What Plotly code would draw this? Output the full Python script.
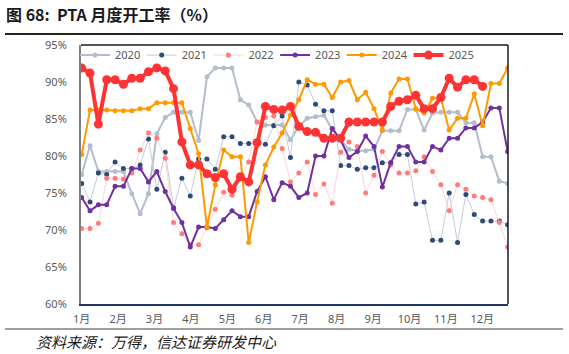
import plotly.graph_objects as go

months = ["1月", "2月", "3月", "4月", "5月", "6月", "7月", "8月", "9月", "10月", "11月", "12月"]
month_pos = [0.0, 4.36, 8.72, 13.08, 17.44, 21.8, 26.16, 30.52, 34.88, 39.24, 43.6, 47.96]
y_ticks = [60, 65, 70, 75, 80, 85, 90, 95]
y_labels = ["60%", "65%", "70%", "75%", "80%", "85%", "90%", "95%"]

s2020 = [77.5, 81.4, 77.9, 77.9, 77.9, 77.9, 74.9, 72.2, 74.9, 83.0, 85.2, 85.9, 85.9, 85.9, 82.1, 90.7,
         91.9, 91.9, 91.9, 87.6, 86.9, 84.6, 84.2, 84.2, 84.2, 82.2, 84.0, 85.1, 85.3, 85.5, 83.6, 82.2,
         80.9, 80.7, 80.7, 80.9, 83.4, 83.4, 83.4, 86.3, 86.3, 83.5, 85.8, 85.9, 85.9, 85.9, 84.5, 84.5,
         79.9, 79.9, 76.6, 76.3]
s2021 = [76.3, 73.8, 77.7, 77.5, 79.2, 78.3, 78.3, 78.8, 82.3, 75.5, 80.5, 73.0, 77.0, 74.6, 79.6, 79.6,
         78.2, 82.6, 82.6, 81.7, 81.7, 81.7, 81.6, 84.1, 85.4, 79.8, 90.0, 89.6, 87.0, 86.1, 86.1, 78.7,
         78.7, 78.2, 78.4, 78.4, 79.1, 79.1, 80.2, 80.2, 73.5, 73.8, 68.6, 68.6, 75.0, 68.3, 74.8, 72.1,
         71.2, 71.2, 71.2, 70.7]
s2022 = [70.2, 70.2, 70.9, 77.0, 77.0, 76.9, 77.7, 80.8, 83.1, 82.4, 79.7, 71.0, 69.5, 68.0, 68.0, 70.3,
         72.8, 75.1, 74.7, 77.0, 79.2, 84.6, 85.2, 85.4, 81.0, 76.5, 77.7, 79.2, 74.8, 76.2, 73.6, 80.5,
         81.9, 81.3, 75.0, 77.4, 80.6, 78.8, 77.7, 77.7, 78.0, 79.9, 77.9, 76.1, 72.6, 76.1, 75.5, 74.6,
         74.4, 74.1, 71.0, 67.7]
s2023 = [74.4, 72.6, 73.4, 73.4, 75.9, 75.9, 78.3, 78.3, 76.5, 77.9, 75.2, 72.9, 71.0, 67.7, 70.4, 70.4,
         70.2, 71.4, 72.6, 71.8, 71.8, 75.2, 77.2, 74.1, 76.4, 75.9, 74.4, 75.0, 80.0, 80.0, 83.7, 82.2,
         79.8, 80.6, 82.7, 81.3, 75.8, 79.1, 81.3, 81.3, 79.2, 79.2, 81.3, 80.8, 82.4, 82.4, 83.8, 83.8,
         84.6, 86.5, 86.5, 80.6]
s2024 = [80.2, 86.2, 86.2, 86.2, 86.1, 86.1, 86.1, 86.4, 86.4, 87.2, 87.2, 87.2, 87.2, 83.7, 80.3, 70.4,
         76.1, 80.8, 79.9, 79.9, 68.3, 73.8, 78.8, 81.2, 83.1, 85.5, 87.6, 90.3, 89.7, 89.7, 87.9, 90.0,
         90.2, 87.6, 88.6, 86.4, 83.5, 88.5, 90.4, 90.4, 86.4, 85.8, 87.8, 87.8, 83.5, 85.1, 85.1, 88.4,
         84.1, 89.8, 89.8, 91.9]
s2025 = [91.9, 91.2, 84.3, 90.3, 90.3, 89.7, 90.5, 90.5, 91.4, 91.9, 91.5, 89.1, 81.9, 78.8, 78.8, 77.6,
         77.1, 77.6, 75.5, 77.2, 76.5, 81.8, 86.7, 86.3, 86.2, 86.7, 84.0, 83.3, 83.2, 82.4, 82.4, 82.4,
         84.6, 84.6, 84.6, 84.6, 84.6, 86.7, 87.4, 87.6, 88.2, 86.4, 86.4, 87.9, 90.5, 89.3, 90.3, 90.3,
         89.4]

series = [
    ("2020", s2020, "#B3BDCD", 2, "#B3BDCD", 5),
    ("2021", s2021, "#C3CCDA", 1, "#2E4A7A", 5),
    ("2022", s2022, "#FFD3D3", 1, "#FF7C7C", 5),
    ("2023", s2023, "#7030A0", 2, "#7030A0", 5),
    ("2024", s2024, "#FF9900", 2, "#FF9900", 5),
    ("2025", s2025, "#FF3333", 4, "#FF3333", 9),
]

tick_font = dict(family="Noto Sans, Noto Sans CJK SC", size=11, color="#595959")

fig = go.Figure()
legend_layout = {}
for i, (name, vals, lc, lw, mc, ms) in enumerate(series):
    key = "legend" if i == 0 else f"legend{i + 1}"
    fig.add_trace(go.Scatter(
        x=list(range(len(vals))), y=vals, name=name, mode="lines+markers",
        line=dict(color=lc, width=lw), marker=dict(color=mc, size=ms), legend=key,
    ))
    legend_layout[key] = dict(
        orientation="h", x=(75 + 66.7 * i - 81) / 427, y=1.017, xanchor="left", yanchor="top",
        bgcolor="rgba(255,255,255,0)", font=tick_font, itemwidth=30,
    )

fig.update_layout(
    width=569, height=354,
    margin=dict(l=81, r=61, t=45, b=50),
    paper_bgcolor="white", plot_bgcolor="white",
    showlegend=True,
    title=dict(text="<b>图 68:  PTA 月度开工率（%）</b>", x=6 / 569, xanchor="left",
               xref="container", y=1 - 15 / 354, yref="container", yanchor="middle",
               font=dict(family="Noto Sans CJK SC", size=16, color="#1A1A1A")),
    xaxis=dict(range=[-0.08, 51.04], tickvals=month_pos, ticktext=months, showgrid=False,
               zeroline=False, showline=True, linecolor="#1F3864", linewidth=2, ticks="",
               tickfont=tick_font, ticklabelstandoff=4),
    yaxis=dict(range=[60, 95], tickvals=y_ticks, ticktext=y_labels, showgrid=False, zeroline=False,
               showline=True, linecolor="#7F7F7F", linewidth=2, ticks="", tickfont=tick_font,
               ticklabelstandoff=10),
    shapes=[
        dict(type="line", xref="paper", yref="paper", x0=0, x1=1, y0=1, y1=1,
             line=dict(color="#1A1A1A", width=1.5)),
        dict(type="line", xref="paper", yref="paper", x0=1, x1=1, y0=0, y1=1,
             line=dict(color="#1A1A1A", width=1.5)),
        dict(type="line", xref="paper", yref="paper", x0=(5 - 81) / 427, x1=(563 - 81) / 427,
             y0=(304 - 34) / 259, y1=(304 - 34) / 259, line=dict(color="#222222", width=2)),
        dict(type="line", xref="paper", yref="paper", x0=(5 - 81) / 427, x1=(563 - 81) / 427,
             y0=(304 - 329) / 259, y1=(304 - 329) / 259, line=dict(color="#7F7F7F", width=1.5)),
    ],
    annotations=[
        dict(text="资料来源：万得，信达证券研发中心", xref="paper", yref="paper",
             x=(34 - 81) / 427, y=(304 - 341) / 259, xanchor="left", yanchor="middle",
             showarrow=False, font=dict(family="Noto Sans CJK SC", size=15, color="#1A1A1A",
                                        style="italic")),
    ],
    **legend_layout,
)

fig.write_html("out.html")
